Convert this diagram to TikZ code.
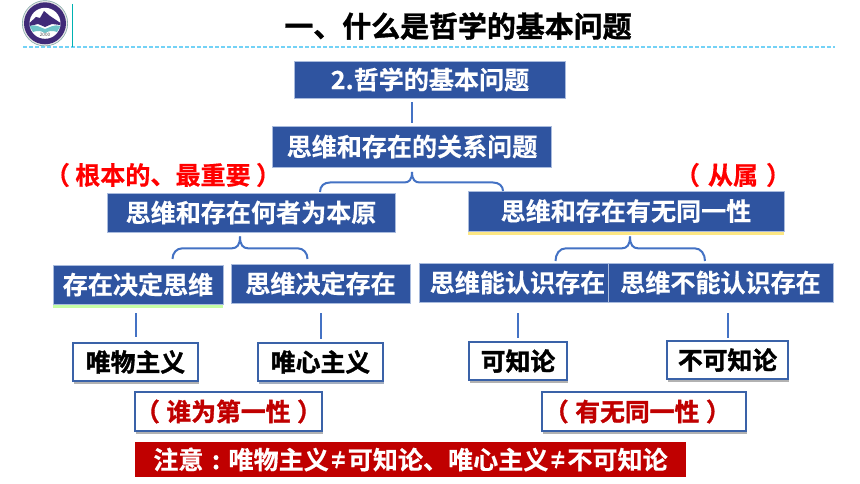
\documentclass[tikz,border=0pt]{standalone}
\usepackage{fontspec}
\setmainfont{Noto Sans CJK SC}[BoldFont={Noto Sans CJK SC Bold},BoldFeatures={FakeBold=0.4}]
\newfontfamily\heavyfont{Noto Sans CJK SC Bold}[FakeBold=1.4]
\usetikzlibrary{shadows}
\definecolor{boxblue}{HTML}{2F54A0}
\definecolor{boxedge}{HTML}{A9BBDD}
\definecolor{linkblue}{HTML}{4472C4}
\definecolor{outlineblue}{HTML}{3A62A8}
\definecolor{darkred}{HTML}{C00000}
\definecolor{logopurple}{HTML}{3F2A78}
\definecolor{logoteal}{HTML}{6FC3C9}
\newcommand{\narrowne}{\makebox[14.25pt][c]{\scalebox{.7}[1]{≠}}}
\tikzset{
  sz/.style 2 args={minimum width=#1*0.75pt,minimum height=#2*0.75pt},
  base/.style={inner sep=0pt,font=\fontsize{18.8}{20}\selectfont\bfseries},
  heavy/.style={inner sep=0pt,font=\fontsize{18.6}{20}\selectfont\heavyfont},
  bluebox/.style={base,rectangle,fill=boxblue,draw=boxedge,line width=.5pt,text=white},
  outbox/.style={heavy,rectangle,fill=white,draw=outlineblue,line width=1.5pt,text=black,
     drop shadow={shadow xshift=0.5pt,shadow yshift=-2.6pt,opacity=.5,fill=black!60}},
  conn/.style={draw=linkblue,line width=1.5pt},
  redlabel/.style={base,text=red},
}
\begin{document}
\begin{tikzpicture}[x=0.75pt,y=-0.75pt]
\useasboundingbox[fill=white] (0,0) rectangle (860,484);
% header
\draw[cyan!55,line width=.8pt,dash pattern=on 3pt off 1.5pt] (23,47) -- (835,47);
\draw[teal!60!cyan,line width=.8pt] (72.5,4) -- (72.5,47);
\fill[black!40!teal!50] (45,23.3) circle (23);
\fill[white!80!gray] (45,23.3) circle (22.3);
\fill[logopurple] (45,23.3) circle (21);
\fill[white] (45,23.3) circle (15.5);
\fill[logopurple] (29.5,23) -- (36,17) -- (40,18) -- (44,11) -- (50,16) -- (60.5,23) -- (60,25) -- (52,24) -- (45,27) -- (38,24) -- (30,26) -- cycle;
\fill[logoteal] (29.5,26) .. controls (37,24) and (41,28) .. (45,29) .. controls (49,28) and (53,24) .. (60.5,26) -- (57,32) .. controls (52,30) and (49,31) .. (45,33) .. controls (41,31) and (38,30) .. (33,32) -- cycle;
\node[inner sep=0pt,font=\fontsize{3.5}{4}\selectfont,text=black!70] (logoyear) at (45,35) {2000};
\node[inner sep=0pt,font=\fontsize{21.7}{24}\selectfont\heavyfont] (title) at (458,26) {一、什么是哲学的基本问题};
% blue boxes
\node[bluebox,sz={271}{37}] (root) at (430,79.5) {2.哲学的基本问题};
\node[bluebox,sz={279}{41}] (rel) at (412,146.5) {思维和存在的关系问题};
\node[bluebox,sz={288}{39}] (origin) at (251,212.5) {思维和存在何者为本原};
\node[bluebox,sz={316}{40},drop shadow={shadow xshift=0pt,shadow yshift=-3pt,opacity=.8,fill=yellow!70!orange!60}] (ident) at (626,211) {思维和存在有无同一性};
\node[bluebox,sz={170}{39},drop shadow={shadow xshift=0pt,shadow yshift=-3pt,opacity=.7,fill=green!50!lime!50}] (sdet) at (138,284.5) {存在决定思维};
\node[bluebox,sz={179}{39}] (tdet) at (320.5,283.5) {思维决定存在};
\node[bluebox,sz={189}{39}] (can) at (513.5,282.5) {\hspace*{6pt}思维能认识存在};
\node[bluebox,sz={225}{39}] (cannot) at (720.5,282.5) {思维不能认识存在};
% outlined boxes
\node[outbox,sz={125}{38}] (mat) at (135.5,362) {唯物主义};
\node[outbox,sz={125}{38},drop shadow={shadow xshift=0.5pt,shadow yshift=-2.6pt,opacity=.35,fill=linkblue!60}] (idl) at (320.5,362) {唯心主义};
\node[outbox,sz={98}{38}] (know) at (518,361) {可知论};
\node[outbox,sz={121}{38}] (unknow) at (727.5,360) {不可知论};
\node[outbox,sz={187}{39},text=darkred] (who) at (228.5,411.5) {（\hspace{5pt}谁为第一性\hspace{5pt}）};
\node[outbox,sz={204}{39},text=darkred] (same) at (644,411.5) {\hspace*{-10pt}（\hspace{5pt}有无同一性\hspace{5pt}）};
\node[base,rectangle,fill=darkred,text=white,sz={551}{35}] (note) at (410.5,459.5) {注意\makebox[18.8pt][c]{:}唯物主义\narrowne 可知论、唯心主义\narrowne 不可知论};
% red labels
\node[redlabel] (lab1) at (163,175) {（\hspace{4pt}根本的、最重要\hspace{4pt}）};
\node[redlabel] (lab2) at (733,175) {（\hspace{6pt}从属\hspace{6pt}）};
% connectors
\draw[conn,shorten <=3pt,shorten >=2.25pt] (root.south -| rel.north) -- (rel.north);
\coordinate (ba) at (320,192);
\coordinate (bb) at (503,191);
\coordinate (ca) at (172.5,259);
\coordinate (cb) at (307.5,259);
\coordinate (da) at (555.5,261);
\coordinate (db) at (705,261);
\coordinate (bt) at (412,172);
\coordinate (ct) at (240,236.5);
\coordinate (dt) at (630,236.5);
\draw[conn] (ba) .. controls (320,186) and (324,182.5) .. (330,182.5) -- (404,182.5) .. controls (409,182.5) and (412,180) .. (bt);
\draw[conn] (bt) .. controls (412,180) and (415,182.5) .. (420,182.5) -- (493,182.5) .. controls (499,182.5) and (503,186) .. (bb);
\draw[conn] (ca) .. controls (172.5,253) and (176.5,248.3) .. (182.5,248.3) -- (232,248.3) .. controls (237,248.3) and (240,245) .. (ct);
\draw[conn] (ct) .. controls (240,245) and (243,248.3) .. (248,248.3) -- (297.5,248.3) .. controls (303.5,248.3) and (307.5,253) .. (cb);
\draw[conn] (da) .. controls (555.5,254) and (559.5,248.3) .. (566,248.3) -- (622,248.3) .. controls (627,248.3) and (630,245) .. (dt);
\draw[conn] (dt) .. controls (630,245) and (633,248.3) .. (638,248.3) -- (694.5,248.3) .. controls (701,248.3) and (705,254) .. (db);
\draw[conn,shorten <=6.75pt,shorten >=3.75pt] (sdet.south -| mat.north) -- (mat.north);
\draw[conn,shorten <=7.5pt,shorten >=2.25pt] (tdet.south -| idl.north) -- (idl.north);
\draw[conn,shorten <=8.25pt,shorten >=2.25pt] (can.south -| know.north) -- (know.north);
\draw[conn,shorten <=8.25pt,shorten >=1.5pt] (cannot.south -| unknow.north) -- (unknow.north);
\end{tikzpicture}
\end{document}
